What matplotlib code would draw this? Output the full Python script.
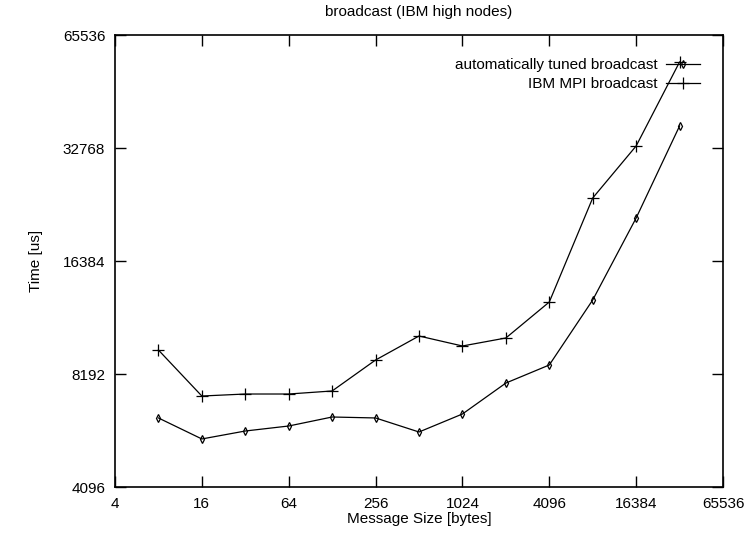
import matplotlib
matplotlib.use("Agg")
import matplotlib.pyplot as plt
from matplotlib.ticker import FixedLocator, FixedFormatter, NullLocator

plt.rcParams['font.family'] = ['Liberation Sans Narrow', 'Liberation Sans', 'DejaVu Sans']

msg_sizes = [8, 16, 32, 64, 128, 256, 512, 1024, 2048, 4096, 8192, 16384, 32768]
tuned_us = [6256, 5500, 5775, 5955, 6293, 6256, 5740, 6410, 7750, 8658, 12900, 21330, 37510]
ibm_us = [9491, 7157, 7246, 7246, 7382, 8926, 10342, 9728, 10217, 12740, 24117, 33180, 55540]

x_ticks = [4, 16, 64, 256, 1024, 4096, 16384, 65536]
y_ticks = [4096, 8192, 16384, 32768, 65536]

fig = plt.figure(figsize=(7.54, 5.36), dpi=100)
ax = fig.add_axes([0.1525, 0.0914, 0.8064, 0.8433])

ax.plot(msg_sizes, tuned_us, color='black', linewidth=0.9, marker='d', markersize=4,
        markerfacecolor='none', markeredgewidth=0.9, label='automatically tuned broadcast')
ax.plot(msg_sizes, ibm_us, color='black', linewidth=0.9, marker='+', markersize=8,
        markeredgewidth=0.9, label='IBM MPI broadcast')

ax.set_xscale('log', base=2)
ax.set_yscale('log', base=2)
ax.set_xlim(4, 65536)
ax.set_ylim(4096, 65536)

ax.xaxis.set_major_locator(FixedLocator(x_ticks))
ax.xaxis.set_major_formatter(FixedFormatter([str(v) for v in x_ticks]))
ax.yaxis.set_major_locator(FixedLocator(y_ticks))
ax.yaxis.set_major_formatter(FixedFormatter([str(v) for v in y_ticks]))
ax.xaxis.set_minor_locator(NullLocator())
ax.yaxis.set_minor_locator(NullLocator())

ax.tick_params(direction='in', length=8, width=1, top=True, right=True, labelsize=11, pad=7)
for s in ax.spines.values():
    s.set_linewidth(1.2)

ax.set_title('broadcast (IBM high nodes)', fontsize=11, pad=14)
ax.set_xlabel('Message Size [bytes]', fontsize=11, labelpad=1)
ax.set_ylabel('Time [us]', fontsize=11, labelpad=14)

ax.legend(loc='upper right', frameon=False, markerfirst=False, fontsize=11,
          handlelength=2.2, handletextpad=0.6, borderaxespad=1.1, labelspacing=0.35)

fig.savefig('out.png', dpi=100)
